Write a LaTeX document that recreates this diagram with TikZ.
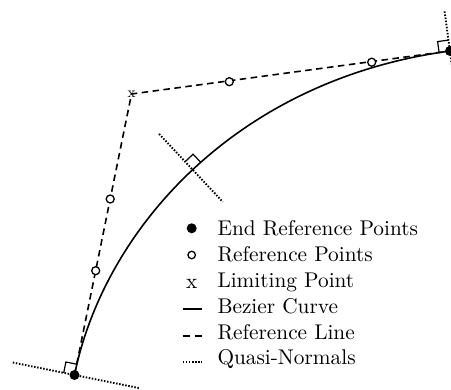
\documentclass[tikz,border=0pt]{standalone}
\usepackage{fontspec}
\setmainfont{lmroman10-regular.otf}
\begin{document}
\begin{tikzpicture}[x=1pt,y=-1pt,
  curve/.style={line width=1.6pt},
  refline/.style={line width=1.6pt, dash pattern=on 6.5pt off 4.5pt},
  qnormal/.style={line width=1.9pt, dash pattern=on 1.5pt off 1.6pt},
  rightang/.style={line width=1.2pt},
  endpt/.style={circle, fill=black, inner sep=0pt, minimum size=10pt},
  refpt/.style={circle, draw=black, fill=white, line width=1.3pt, inner sep=0pt, minimum size=8pt},
  limpt/.style={inner sep=0pt, font=\fontsize{15}{15}\selectfont},
  legx/.style={inner sep=0pt, font=\fontsize{21.3}{24}\selectfont},
  legtext/.style={anchor=base west, inner sep=0pt, font=\fontsize{21.3}{24}\selectfont}]
\useasboundingbox (0,0) rectangle (451,390);
% key points
\coordinate (P0) at (74.5,375);
\coordinate (P1) at (103.8,230.6);
\coordinate (P2) at (235.0,80.0);
\coordinate (P3) at (450,51);
\coordinate (L) at (131.5,94);
\coordinate (M) at (192.6,169.7);
% quasi-normal ends
\coordinate (N0a) at (12.8,362.5);
\coordinate (N0b) at (139.2,388.1);
\coordinate (Ma) at (159.1,133.9);
\coordinate (Mb) at (222.7,201.8);
\coordinate (N3a) at (444.6,11.4);
\coordinate (N3b) at (458.7,115.4);
% reference line
\draw[refline] (P0) -- (L) -- (P3);
% quasi-normals
\draw[qnormal] (N0a) -- (N0b);
\draw[qnormal] (Ma) -- (Mb);
\draw[qnormal] (N3a) -- (N3b);
% bezier curve
\draw[curve] (P0) .. controls (P1) and (P2) .. (P3);
% right-angle marks
\coordinate (S0a) at (76.7,364.2);
\coordinate (S0b) at (65.9,362.0);
\coordinate (S0c) at (63.7,372.8);
\draw[rightang] (S0a) -- (S0b) -- (S0c);
\coordinate (SMa) at (200.6,162.2);
\coordinate (SMb) at (193.1,154.2);
\coordinate (SMc) at (185.1,161.7);
\draw[rightang] (SMa) -- (SMb) -- (SMc);
\coordinate (S3a) at (439.1,52.5);
\coordinate (S3b) at (437.6,41.6);
\coordinate (S3c) at (448.5,40.1);
\draw[rightang] (S3a) -- (S3b) -- (S3c);
% reference points
\node[refpt] (R1) at (95.7,270.7) {};
\node[refpt] (R2) at (110.2,199) {};
\node[refpt] (R3) at (229.3,81.7) {};
\node[refpt] (R4) at (371.7,62.2) {};
% end points
\node[endpt] (E0) at (P0) {};
\node[endpt] (E3) at (P3) {};
% limiting point
\node[limpt] (LP) at (L) {x};
% legend
\node[endpt] (lg1) at (191.7,228.3) {};
\node[refpt, minimum size=7.5pt] (lg2) at (191.7,255) {};
\node[legx] (lg3) at (191.7,284.3) {x};
\coordinate (lg4a) at (182.7,309);
\coordinate (lg4b) at (201.7,309);
\draw[curve] (lg4a) -- (lg4b);
\coordinate (lg5a) at (182.7,336);
\coordinate (lg5b) at (201.7,336);
\draw[refline, dash pattern=on 7pt off 5pt] (lg5a) -- (lg5b);
\coordinate (lg6a) at (182.7,361.7);
\coordinate (lg6b) at (201.7,361.7);
\draw[qnormal] (lg6a) -- (lg6b);
\node[legtext] (t1) at (217.3,236) {End Reference Points};
\node[legtext] (t2) at (217.3,261.7) {Reference Points};
\node[legtext] (t3) at (217.3,287.3) {Limiting Point};
\node[legtext] (t4) at (217.3,313.3) {Bezier Curve};
\node[legtext] (t5) at (217.3,339.3) {Reference Line};
\node[legtext] (t6) at (217.3,365) {Quasi-Normals};
\end{tikzpicture}
\end{document}
